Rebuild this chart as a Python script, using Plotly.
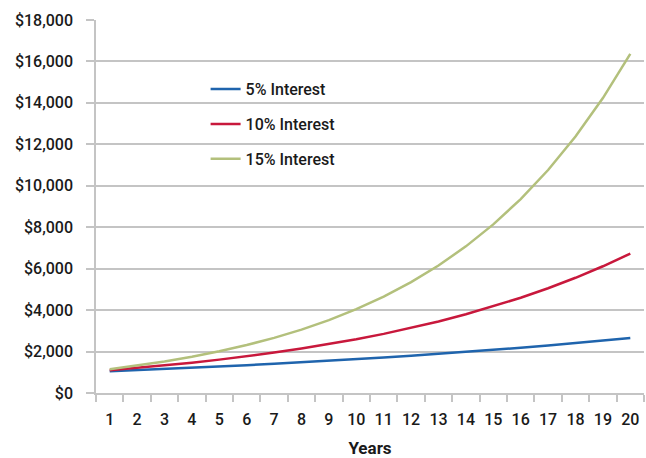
import plotly.graph_objects as go

# Growth of $1,000 compounded annually
years = [str(y) for y in range(1, 21)]
interest_5 = [1050, 1103, 1158, 1216, 1276, 1340, 1407, 1477, 1551, 1629,
              1710, 1796, 1886, 1980, 2079, 2183, 2292, 2407, 2527, 2653]
interest_10 = [1100, 1210, 1331, 1464, 1611, 1772, 1949, 2144, 2358, 2594,
               2853, 3138, 3452, 3797, 4177, 4595, 5054, 5560, 6116, 6727]
interest_15 = [1150, 1323, 1521, 1749, 2011, 2313, 2660, 3059, 3518, 4046,
               4652, 5350, 6153, 7076, 8137, 9358, 10761, 12375, 14232, 16367]
y_ticks = list(range(0, 18001, 2000))
y_tick_text = ["$" + format(v, ",") for v in y_ticks]

FONT = "Roboto, Liberation Sans, sans-serif"
GRID = "#c4c4c4"
TEXT = "#1a1a1a"

fig = go.Figure()
series = [
    ("5% Interest", interest_5, "#1f64ad"),
    ("10% Interest", interest_10, "#c8183c"),
    ("15% Interest", interest_15, "#b3c07c"),
]
for name, vals, color in series:
    fig.add_trace(go.Scatter(x=years, y=vals, mode="lines", name=name,
                             legendgroup=name,
                             line=dict(color=color, width=2.5)))

fig.update_layout(
    width=646, height=458,
    margin=dict(l=96, r=2, t=20, b=65),
    paper_bgcolor="white", plot_bgcolor="white",
    font=dict(family=FONT, size=15, color=TEXT, weight=500),
    showlegend=True,
    legend=dict(x=0.2, y=0.86, xanchor="left", yanchor="top",
                bgcolor="rgba(0,0,0,0)", font=dict(size=16, color=TEXT, weight=500),
                itemwidth=30, tracegroupgap=11),
    xaxis=dict(
        type="category", range=[-0.5, 19.5], tickson="boundaries",
        ticks="outside", ticklen=7, tickangle=0, automargin=False,
        tickcolor=GRID, tickwidth=1.5, showline=True, linecolor=GRID, linewidth=1.5,
        showgrid=False, tickfont=dict(size=16, weight=500), ticklabelstandoff=11,
        title=dict(text="<b>Years</b>", font=dict(size=17), standoff=16),
    ),
    yaxis=dict(
        range=[0, 18000], tickvals=y_ticks, ticktext=y_tick_text, automargin=False,
        ticks="outside", ticklen=8, tickcolor=GRID, tickwidth=1.5,
        showgrid=True, gridcolor=GRID, gridwidth=1.5, zeroline=False,
        showline=True, linecolor=GRID, linewidth=1.5,
        tickfont=dict(size=16, weight=500), ticklabelstandoff=10,
    ),
)

fig.write_html("out.html")
